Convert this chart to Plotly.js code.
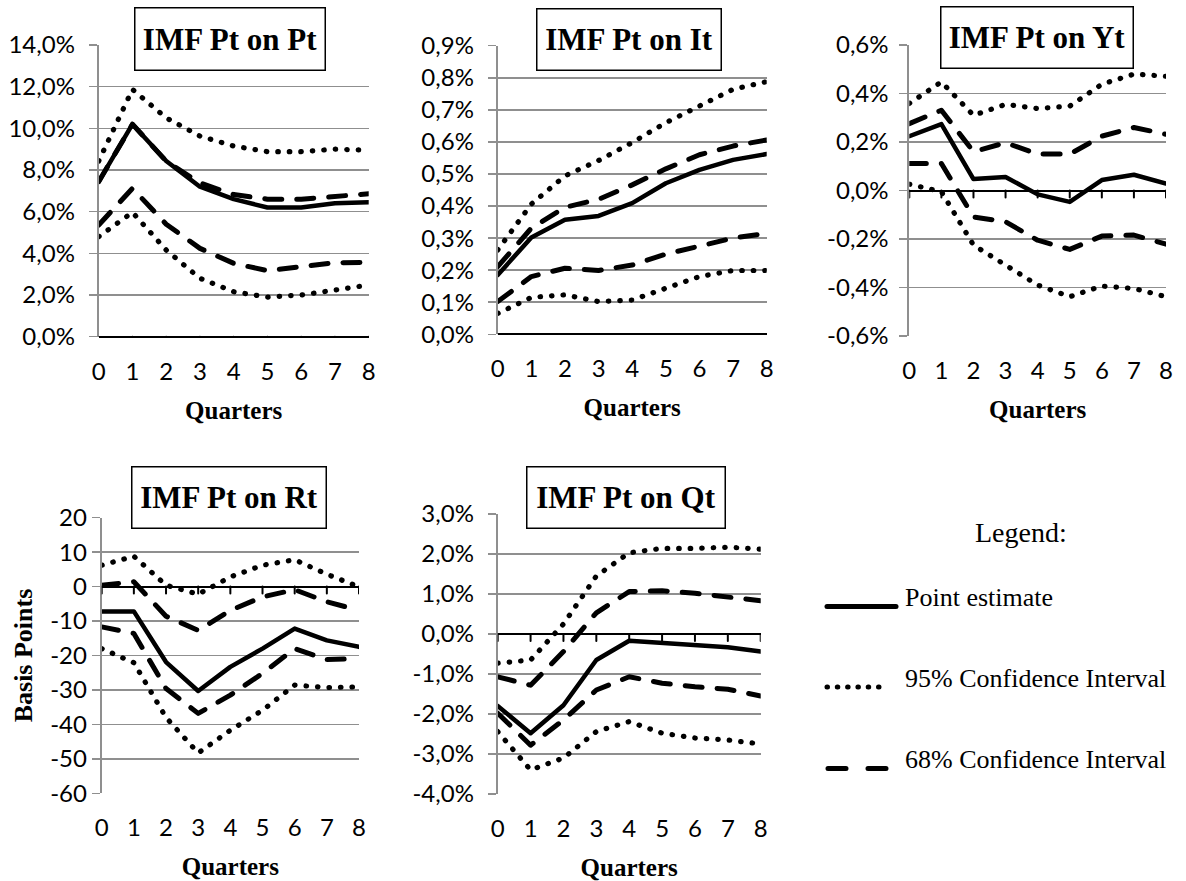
<!DOCTYPE html>
<html><head><meta charset="utf-8">
<script src="https://cdn.plot.ly/plotly-3.0.1.min.js"></script>
<style>
html,body{margin:0;padding:0;background:#fff;}
#chart{width:1186px;height:881px;}
.scatterlayer .js-line{stroke-linecap:round;stroke-linejoin:round;}
.shapelayer path{stroke-linecap:round;}
</style></head><body><div id="chart"></div>
<script>
// ---------------- DATA ----------------
const quarters = [0, 1, 2, 3, 4, 5, 6, 7, 8];
const quarterLabels = ['0', '1', '2', '3', '4', '5', '6', '7', '8'];
const seriesNames = ['Point estimate', '95% Confidence Interval', '68% Confidence Interval'];
const panelTitles = ['IMF Pt on Pt', 'IMF Pt on It', 'IMF Pt on Yt', 'IMF Pt on Rt', 'IMF Pt on Qt'];

// IMF Pt on Pt (percent)
const ppPoint = [7.44, 10.2, 8.43, 7.2, 6.6, 6.2, 6.2, 6.4, 6.45];
const ppUp95  = [8.43, 11.87, 10.5, 9.63, 9.15, 8.88, 8.88, 9.0, 8.95];
const ppLo95  = [4.8, 5.97, 4.16, 2.8, 2.16, 1.9, 2.0, 2.27, 2.48];
const ppUp68  = [7.44, 10.2, 8.42, 7.38, 6.82, 6.6, 6.6, 6.76, 6.86];
const ppLo68  = [5.36, 7.12, 5.4, 4.24, 3.52, 3.17, 3.36, 3.55, 3.57];

// IMF Pt on It (percent)
const piPoint = [0.185, 0.302, 0.357, 0.369, 0.409, 0.471, 0.513, 0.544, 0.562];
const piUp95  = [0.263, 0.406, 0.494, 0.542, 0.598, 0.66, 0.712, 0.764, 0.788];
const piLo95  = [0.065, 0.115, 0.123, 0.102, 0.107, 0.143, 0.18, 0.199, 0.199];
const piUp68  = [0.211, 0.331, 0.396, 0.421, 0.466, 0.516, 0.56, 0.587, 0.606];
const piLo68  = [0.102, 0.18, 0.206, 0.199, 0.216, 0.25, 0.275, 0.3, 0.315];

// IMF Pt on Yt (percent)
const pyPoint = [0.224, 0.274, 0.047, 0.056, -0.016, -0.047, 0.043, 0.065, 0.029];
const pyUp95  = [0.359, 0.448, 0.31, 0.355, 0.338, 0.348, 0.438, 0.48, 0.471];
const pyLo95  = [0.026, -0.005, -0.225, -0.308, -0.39, -0.438, -0.394, -0.404, -0.438];
const pyUp68  = [0.276, 0.331, 0.16, 0.197, 0.15, 0.15, 0.224, 0.26, 0.232];
const pyLo68  = [0.111, 0.111, -0.109, -0.129, -0.205, -0.243, -0.188, -0.184, -0.221];

// IMF Pt on Rt (basis points)
const prPoint = [-7.2, -7.2, -21.9, -30.3, -23.3, -18, -12.2, -15.6, -17.5];
const prUp95  = [6.2, 8.8, 0.4, -2.2, 2.8, 6.2, 7.8, 3.6, -0.1];
const prLo95  = [-18, -22.1, -38, -48.3, -41.7, -35.9, -28.6, -29.3, -29.1];
const prUp68  = [0.4, 1.4, -8.6, -12.7, -6.9, -3, -0.9, -4.4, -6.9];
const prLo68  = [-11.7, -13.6, -29.6, -36.8, -31.5, -25.2, -18, -21.2, -20.9];

// IMF Pt on Qt (percent)
const pqPoint = [-1.8, -2.48, -1.78, -0.65, -0.17, -0.22, -0.28, -0.33, -0.44];
const pqUp95  = [-0.73, -0.65, 0.25, 1.45, 2.03, 2.14, 2.14, 2.17, 2.12];
const pqLo95  = [-2.44, -3.4, -3.1, -2.44, -2.19, -2.48, -2.6, -2.65, -2.75];
const pqUp68  = [-1.07, -1.28, -0.44, 0.53, 1.06, 1.08, 1.02, 0.93, 0.83];
const pqLo68  = [-1.98, -2.78, -2.15, -1.4, -1.07, -1.23, -1.32, -1.38, -1.55];

// Tick values / labels
const ppTickVals = [0, 2, 4, 6, 8, 10, 12, 14];
const ppTickText = ['0,0%', '2,0%', '4,0%', '6,0%', '8,0%', '10,0%', '12,0%', '14,0%'];
const piTickVals = [0, 0.1, 0.2, 0.3, 0.4, 0.5, 0.6, 0.7, 0.8, 0.9];
const piTickText = ['0,0%', '0,1%', '0,2%', '0,3%', '0,4%', '0,5%', '0,6%', '0,7%', '0,8%', '0,9%'];
const pyTickVals = [-0.6, -0.4, -0.2, 0, 0.2, 0.4, 0.6];
const pyTickText = ['-0,6%', '-0,4%', '-0,2%', '0,0%', '0,2%', '0,4%', '0,6%'];
const prTickVals = [-60, -50, -40, -30, -20, -10, 0, 10, 20];
const prTickText = ['-60', '-50', '-40', '-30', '-20', '-10', '0', '10', '20'];
const pqTickVals = [-4, -3, -2, -1, 0, 1, 2, 3];
const pqTickText = ['-4,0%', '-3,0%', '-2,0%', '-1,0%', '0,0%', '1,0%', '2,0%', '3,0%'];

// ---------------- LAYOUT HELPERS ----------------
const W = 1186, H = 881;
const SERIF = 'Liberation Serif, Times New Roman, serif';
const SANS = 'Lato, Open Sans, sans-serif';
const GRID = '#8f8f8f';
const TICKSIZE = 24;

const panels = [
  {title: panelTitles[0], s: [ppPoint, ppUp95, ppLo95, ppUp68, ppLo68], tv: ppTickVals, tt: ppTickText,
   box: [98.7, 45, 368.7, 336.7], tbox: [230, 39, 192, 64], ylso: 9, ytitle: ''},
  {title: panelTitles[1], s: [piPoint, piUp95, piLo95, piUp68, piLo68], tv: piTickVals, tt: piTickText,
   box: [497.7, 45.7, 766.7, 334.3], tbox: [628.7, 39.5, 186, 63], ylso: 9, ytitle: ''},
  {title: panelTitles[2], s: [pyPoint, pyUp95, pyLo95, pyUp68, pyLo68], tv: pyTickVals, tt: pyTickText,
   box: [909.3, 45, 1166, 336], tbox: [1037, 37.5, 194, 63], ylso: 6, ytitle: ''},
  {title: panelTitles[3], s: [prPoint, prUp95, prLo95, prUp68, prLo68], tv: prTickVals, tt: prTickText,
   box: [101.7, 517.7, 359, 793.3], tbox: [229, 497.5, 196, 63], ylso: 0, ytitle: 'Basis Points'},
  {title: panelTitles[4], s: [pqPoint, pqUp95, pqLo95, pqUp68, pqLo68], tv: pqTickVals, tt: pqTickText,
   box: [497.7, 514, 760.7, 794], tbox: [626, 497.5, 200, 63], ylso: 9, ytitle: ''}
];

const styles = [
  {width: 4.5, dash: 'solid'},
  {width: 5.2, dash: '0.5px,11px'},
  {width: 5.2, dash: '0.5px,11px'},
  {width: 5, dash: '17px,15px'},
  {width: 5, dash: '17px,15px'}
];
const names = [seriesNames[0], seriesNames[1], seriesNames[1], seriesNames[2], seriesNames[2]];

const traces = [];
const layout = {
  width: W, height: H,
  margin: {l: 0, r: 0, t: 0, b: 0},
  paper_bgcolor: '#fff', plot_bgcolor: '#fff',
  showlegend: false,
  font: {family: SANS, color: '#000'},
  annotations: [], shapes: []
};

panels.forEach((p, i) => {
  const n = i + 1;
  const xa = 'xaxis' + (n === 1 ? '' : n), ya = 'yaxis' + (n === 1 ? '' : n);
  const xr = 'x' + (n === 1 ? '' : n), yr = 'y' + (n === 1 ? '' : n);
  // draw order: CIs first, point estimate last
  [1, 2, 3, 4, 0].forEach(k => {
    traces.push({
      type: 'scatter', mode: 'lines', x: quarters, y: p.s[k], name: names[k],
      xaxis: xr, yaxis: yr, hoverinfo: 'skip',
      line: {color: '#000', width: styles[k].width, dash: styles[k].dash}
    });
  });
  const [l, t, r, b] = p.box;
  layout[xa] = {
    domain: [l / W, r / W], anchor: yr, range: [0, 8],
    tickmode: 'array', tickvals: quarters, ticktext: quarterLabels,
    showgrid: false, zeroline: false, showline: false, ticks: '',
    tickfont: {family: SANS, size: TICKSIZE, color: '#000'},
    ticklabelstandoff: 18,
    title: {text: '<b>Quarters</b>', font: {family: SERIF, size: 25, color: '#000'}, standoff: 17},
    automargin: false, fixedrange: true
  };
  layout[ya] = {
    domain: [1 - b / H, 1 - t / H], anchor: xr,
    range: [p.tv[0], p.tv[p.tv.length - 1]],
    tickmode: 'array', tickvals: p.tv, ticktext: p.tt,
    showgrid: true, gridcolor: GRID, gridwidth: 1.5,
    showline: true, linecolor: GRID, linewidth: 2,
    ticks: 'outside', ticklen: 8, tickcolor: GRID, tickwidth: 1.5,
    zeroline: true, zerolinecolor: '#000', zerolinewidth: 2,
    tickfont: {family: SANS, size: TICKSIZE, color: '#000'},
    ticklabelstandoff: p.ylso,
    title: {text: p.ytitle ? '<b>' + p.ytitle + '</b>' : '', font: {family: SERIF, size: 26, color: '#000'}, standoff: 10},
    automargin: false, fixedrange: true
  };
  // category tick marks hanging below the zero line
  quarters.forEach(q => {
    layout.shapes.push({
      type: 'line', xref: xr, yref: yr, x0: q, x1: q,
      ysizemode: 'pixel', yanchor: 0, y0: 0, y1: -7,
      line: {color: '#000', width: 2}, layer: 'above'
    });
  });
  // title box
  const [cx, cy, bw, bh] = p.tbox;
  layout.annotations.push({
    xref: 'paper', yref: 'paper', x: cx / W, y: 1 - cy / H,
    xanchor: 'center', yanchor: 'middle', showarrow: false,
    text: '<b>' + p.title + '</b>',
    font: {family: SERIF, size: 31, color: '#000'},
    width: bw - 3, height: bh - 3, borderpad: 0,
    bordercolor: '#000', borderwidth: 1.5, bgcolor: '#fff'
  });
});

// -------- Legend (drawn by hand to match the original) --------
layout.annotations.push({
  xref: 'paper', yref: 'paper', x: 1021 / W, y: 1 - 532 / H,
  xanchor: 'center', yanchor: 'middle', showarrow: false,
  text: 'Legend:', font: {family: SERIF, size: 28, color: '#000'}
});
const legendRows = [
  {y: 606.5, x0: 827, x1: 896, w: 5, dash: 'solid', ty: 597},
  {y: 687, x0: 827, x1: 887, w: 5, dash: '0.5px,9.8px', ty: 678},
  {y: 768.5, x0: 828, x1: 886, w: 5, dash: '18px,22px', ty: 759}
];
legendRows.forEach((row, i) => {
  layout.shapes.push({
    type: 'line', xref: 'paper', yref: 'paper',
    x0: row.x0 / W, x1: row.x1 / W, y0: 1 - row.y / H, y1: 1 - row.y / H,
    line: {color: '#000', width: row.w, dash: row.dash}
  });
  layout.annotations.push({
    xref: 'paper', yref: 'paper', x: 903 / W, y: 1 - row.ty / H,
    xanchor: 'left', yanchor: 'middle', showarrow: false,
    text: seriesNames[i], font: {family: SERIF, size: 26, color: '#000'}
  });
});

Plotly.newPlot('chart', traces, layout, {staticPlot: true, displayModeBar: false});
</script></body></html>
